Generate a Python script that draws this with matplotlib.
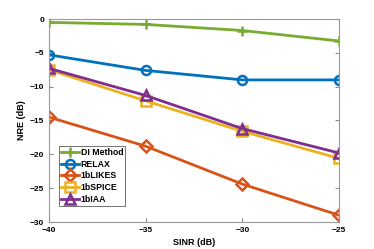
import matplotlib
matplotlib.use("Agg")
import matplotlib.pyplot as plt

sinr = [-40, -35, -30, -25]
di_method = [-0.5, -0.8, -1.7, -3.25]
relax = [-5.3, -7.6, -9.0, -9.0]
likes = [-14.5, -18.8, -24.4, -29.0]
spice = [-7.5, -12.1, -16.6, -20.6]
iaa = [-7.3, -11.3, -16.2, -19.8]
labels = ["DI Method", "RELAX", "1bLIKES", "1bSPICE", "1bIAA"]

plt.rcParams['font.family'] = ['Liberation Sans', 'DejaVu Sans']
plt.rcParams['font.weight'] = 'bold'

fig = plt.figure(figsize=(3.74, 2.49), dpi=100)
ax = fig.add_axes([49/374, 1 - 222/249, 290/374, 203/249])

series = [di_method, relax, likes, spice, iaa]
colors = ["#77AC30", "#0072BD", "#D95319", "#EDB120", "#7E2F8E"]
markers = ["+", "o", "D", "s", "^"]
msizes = [7, 6.5, 6.5, 6.5, 7.5]
for s, c, m, ms, lab in zip(series, colors, markers, msizes, labels):
    ax.plot(sinr, s, color=c, marker=m, markersize=ms, markerfacecolor='none',
            markeredgewidth=1.8, linewidth=2, label=lab)

ax.set_xlim(-40, -25)
ax.set_ylim(-30, 0)
ax.set_xticks([-40, -35, -30, -25])
ax.set_yticks([0, -5, -10, -15, -20, -25, -30])
ax.tick_params(direction='in', labelsize=6, length=3, color='#888888', top=False, right=True)
for lab in ax.get_xticklabels() + ax.get_yticklabels():
    lab.set_fontweight('bold')
for sp in ax.spines.values():
    sp.set_color('#999999')
    sp.set_linewidth(0.8)
ax.set_xlabel("SINR (dB)", fontsize=6.5, fontweight='bold', labelpad=3)
ax.set_ylabel("NRE (dB)", fontsize=6.5, fontweight='bold', labelpad=3)

leg = ax.legend(loc='lower left', bbox_to_anchor=(0.035, 0.08), fontsize=6.3,
                frameon=True, fancybox=False, edgecolor='#333333', handlelength=2.0,
                handletextpad=0.2, borderpad=0.25, labelspacing=0.3, borderaxespad=0)
leg.get_frame().set_linewidth(0.6)
for t in leg.get_texts():
    t.set_fontweight('bold')

fig.savefig("out.png", dpi=100)
